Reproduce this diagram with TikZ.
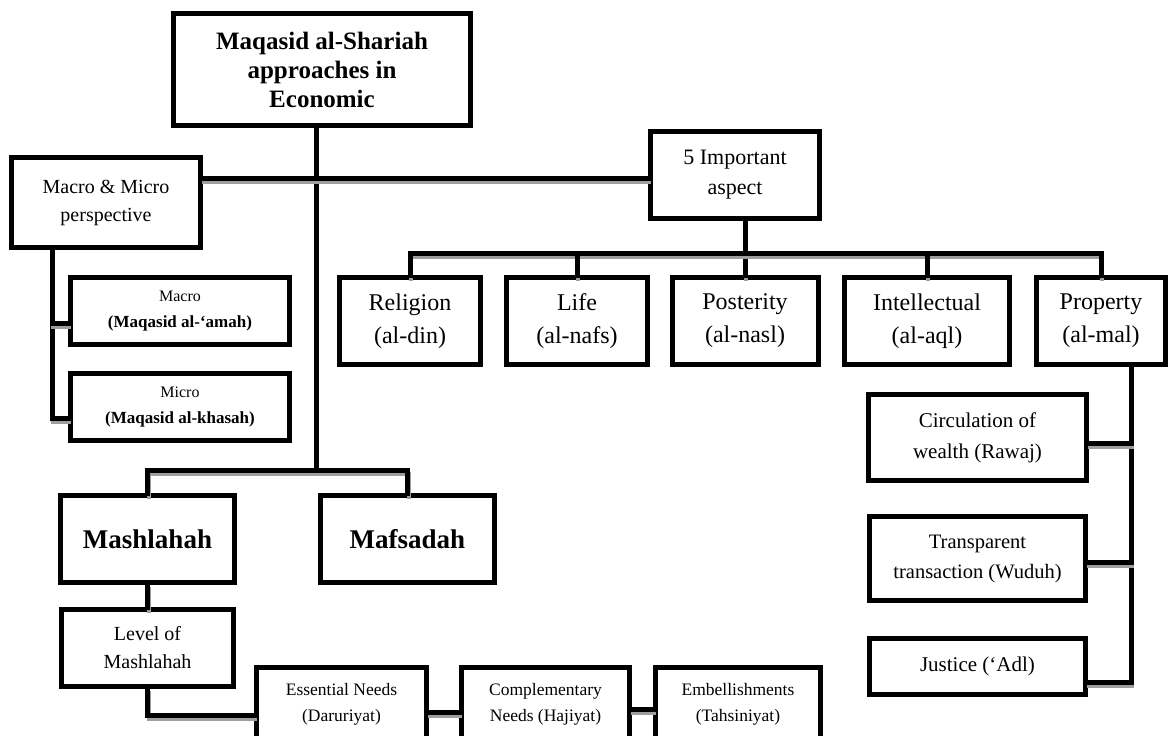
\documentclass[tikz,border=0pt]{standalone}
\usepackage{fontspec}
\setmainfont{Liberation Serif}
\newcommand\cnx[1]{\draw[shad] #1; \draw[conn] #1;}
\begin{document}
\begin{tikzpicture}[x=1pt,y=-1pt,
  box/.style={draw, line width=5pt, rectangle, inner sep=0pt, align=center, fill=white},
  conn/.style={line width=5pt, line join=miter, line cap=rect},
  shad/.style={line width=4pt, color=black!38, line cap=rect, transform canvas={shift={(1pt,-4pt)}}}]
\clip (0,0) rectangle (1171,736);
% boxes
\node[box, minimum width=297pt, minimum height=112pt, font=\fontsize{25}{29}\selectfont\bfseries] (top) at (322,69.5) {Maqasid al-Shariah\\approaches in\\Economic};
\node[box, minimum width=189pt, minimum height=90pt, font=\fontsize{20}{28}\selectfont] (mm) at (106,202.5) {Macro \& Micro\\perspective};
\node[box, minimum width=169pt, minimum height=87pt, font=\fontsize{22}{30}\selectfont] (five) at (735,175) {5 Important\\aspect};
\node[box, minimum width=141pt, minimum height=87pt, font=\fontsize{24}{33}\selectfont] (rel) at (410,321) {Religion\\(al-din)};
\node[box, minimum width=141pt, minimum height=87pt, font=\fontsize{24}{33}\selectfont] (life) at (577,321) {Life\\(al-nafs)};
\node[box, minimum width=146pt, minimum height=87pt, font=\fontsize{24}{33}\selectfont] (post) at (745,321) {Posterity\\(al-nasl)};
\node[box, minimum width=165pt, minimum height=87pt, font=\fontsize{24}{33}\selectfont] (int) at (927,321) {Intellectual\\(al-aql)};
\node[box, minimum width=129pt, minimum height=87pt, font=\fontsize{24}{33}\selectfont] (prop) at (1101,321) {Property\\(al-mal)};
\node[box, minimum width=219pt, minimum height=67pt, font=\fontsize{16}{26}\selectfont] (mac) at (180,311) {Macro\\\fontsize{17}{26}\selectfont\bfseries (Maqasid al-‘amah)};
\node[box, minimum width=219pt, minimum height=67pt, font=\fontsize{16}{26}\selectfont] (mic) at (180,407) {Micro\\\fontsize{17}{26}\selectfont\bfseries (Maqasid al-khasah)};
\node[box, minimum width=174pt, minimum height=87pt, font=\fontsize{27}{32}\selectfont\bfseries] (mash) at (147.5,539) {Mashlahah};
\node[box, minimum width=174pt, minimum height=87pt, font=\fontsize{27}{32}\selectfont\bfseries] (maf) at (407.5,539) {Mafsadah};
\node[box, minimum width=172pt, minimum height=77pt, font=\fontsize{20}{28}\selectfont] (lev) at (147.5,648) {Level of\\Mashlahah};
\node[box, minimum width=170pt, minimum height=73pt, font=\fontsize{17.5}{26}\selectfont] (ess) at (341.5,704) {Essential Needs\\(Daruriyat)};
\node[box, minimum width=168pt, minimum height=73pt, font=\fontsize{17.5}{26}\selectfont] (comp) at (545.5,704) {Complementary\\Needs (Hajiyat)};
\node[box, minimum width=165pt, minimum height=73pt, font=\fontsize{17.5}{26}\selectfont] (emb) at (738,704) {Embellishments\\(Tahsiniyat)};
\node[box, minimum width=218pt, minimum height=86pt, font=\fontsize{21}{31}\selectfont] (circ) at (977.5,437.5) {Circulation of\\wealth (Rawaj)};
\node[box, minimum width=216pt, minimum height=84pt, font=\fontsize{20.5}{30}\selectfont] (trans) at (977.5,558.5) {Transparent\\transaction (Wuduh)};
\node[box, minimum width=216pt, minimum height=56pt, font=\fontsize{21}{30}\selectfont] (jus) at (977.5,666.5) {Justice (‘Adl)};
% helper coordinates
\coordinate (hubA) at (316,470);
\coordinate (yH) at (0,178);
\coordinate (mvx) at (52,418);
\coordinate (mvm) at (52,323);
\coordinate (busy) at (0,253);
\coordinate (pv) at (1131,682);
\coordinate (pc) at (1131,443);
\coordinate (pt) at (1131,562);
\coordinate (lv) at (147.5,715);
\coordinate (yEC) at (0,712);
\coordinate (yCE) at (0,709);
% connectors
\cnx{(top.south -| hubA) -- (hubA)}
\cnx{(mash.north) -- (mash.north |- hubA) -- (maf.north |- hubA) -- (maf.north)}
\cnx{(mm.east |- yH) -- (five.west |- yH)}
\cnx{(mm.south -| mvx) -- (mvx) -- (mic.west |- mvx)}
\cnx{(mvm) -- (mac.west |- mvm)}
\cnx{(five.south -| post.north) -- (post.north)}
\cnx{(rel.north) -- (rel.north |- busy) -- (prop.north |- busy) -- (prop.north)}
\cnx{(life.north) -- (life.north |- busy)}
\cnx{(int.north) -- (int.north |- busy)}
\cnx{(prop.south -| pv) -- (pv) -- (jus.east |- pv)}
\cnx{(circ.east |- pc) -- (pc)}
\cnx{(trans.east |- pt) -- (pt)}
\cnx{(mash.south) -- (lev.north)}
\cnx{(lev.south -| lv) -- (lv) -- (ess.west |- lv)}
\cnx{(ess.east |- yEC) -- (comp.west |- yEC)}
\cnx{(comp.east |- yCE) -- (emb.west |- yCE)}
\end{tikzpicture}
\end{document}
